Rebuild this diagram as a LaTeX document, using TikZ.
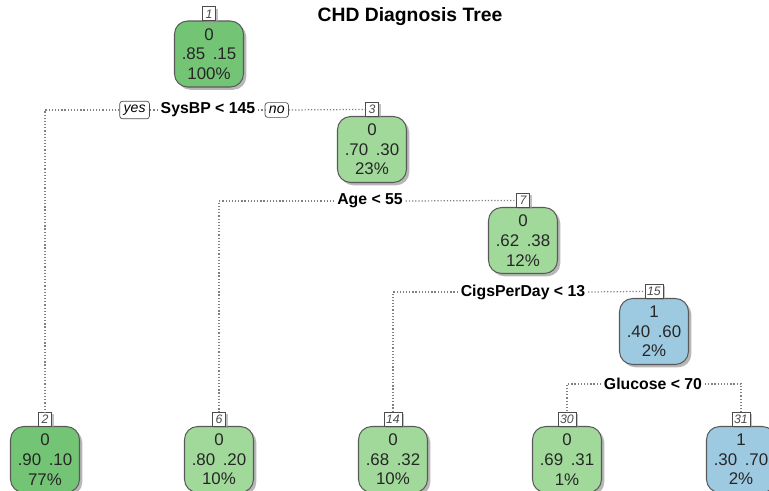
\documentclass[tikz,border=0pt]{standalone}
\usepackage{fontspec}
\setmainfont{Liberation Sans}
\usetikzlibrary{positioning, shadows}
\usepackage{xcolor}

\definecolor{leafdark}{HTML}{74C476}
\definecolor{leaflight}{HTML}{A1D99B}
\definecolor{leafblue}{HTML}{9ECAE1}

\newcommand{\pr}[2]{#1\hspace{0.45em}#2}

\begin{document}
\begin{tikzpicture}[
x=0.02cm, y=-0.02cm,
box/.style={draw=black!65, line width=0.6pt, rounded corners=7.5pt,
minimum width=1.38cm,
minimum height=1.32cm,
align=center, text=black!85,
font=\fontsize{9.6}{11.2}\selectfont,
execute at begin node={\rule{0pt}{11.5pt}},
drop shadow={shadow xshift=1.6pt, shadow yshift=-1.6pt, fill=black!40, opacity=0.7}},
tag/.style={draw=black!70, fill=white, line width=0.5pt,
inner sep=1.2pt, minimum width=0.27cm, minimum height=0.28cm,
font=\fontsize{7}{8}\selectfont\itshape, text=black!70,
drop shadow={shadow xshift=1pt, shadow yshift=-1pt, fill=black!40, opacity=0.6}},
split/.style={font=\fontsize{9}{10}\selectfont\bfseries, inner sep=1.5pt},
yesno/.style={draw=black!70, fill=white, rounded corners=1.5pt,
inner xsep=2.2pt, inner ysep=2pt,
font=\fontsize{8}{9}\selectfont\itshape},
link/.style={dash pattern=on 0.7pt off 1.1pt, black!50, line width=0.7pt}
]

\useasboundingbox (0,0) rectangle (769,491);

\node[font=\fontsize{11}{13}\selectfont\bfseries] (title) at (410,17) {CHD Diagnosis Tree};

% root and its split
\node[box, fill=leafdark] (n1) at (209,54) {0\\\pr{.85}{.15}\\100\%};
\node[tag, above=-0.5pt of n1] (t1) {1};
\node[split] (s1) at (208,110) {SysBP < 145};
\node[yesno, left=0.16cm of s1] (yes) {yes};
\node[yesno, right=0.13cm of s1] (no) {no};

% inner nodes
\node[box, fill=leaflight] (n3) at (372,149.5) {0\\\pr{.70}{.30}\\23\%};
\node[tag, above=-0.5pt of n3] (t3) {3};
\node[split] (s3) at (370,201) {Age < 55};

\node[box, fill=leaflight] (n7) at (523,240.5) {0\\\pr{.62}{.38}\\12\%};
\node[tag, above=-0.5pt of n7] (t7) {7};
\node[split] (s7) at (523,292) {CigsPerDay < 13};

\node[box, fill=leafblue] (n15) at (654,331.5) {1\\\pr{.40}{.60}\\2\%};
\node[tag, above=-0.5pt of n15] (t15) {15};
\node[split] (s15) at (653,384) {Glucose < 70};

% leaves
\node[box, fill=leafdark] (n2) at (45,459.5) {0\\\pr{.90}{.10}\\77\%};
\node[tag, above=-0.5pt of n2] (t2) {2};
\node[box, fill=leaflight] (n6) at (219,459.5) {0\\\pr{.80}{.20}\\10\%};
\node[tag, above=-0.5pt of n6] (t6) {6};
\node[box, fill=leaflight] (n14) at (393,459.5) {0\\\pr{.68}{.32}\\10\%};
\node[tag, above=-0.5pt of n14] (t14) {14};
\node[box, fill=leaflight] (n30) at (567,459.5) {0\\\pr{.69}{.31}\\1\%};
\node[tag, above=-0.5pt of n30] (t30) {30};
\node[box, fill=leafblue] (n31) at (741,459.5) {1\\\pr{.30}{.70}\\2\%};
\node[tag, above=-0.5pt of n31] (t31) {31};

% branches
\draw[link] (s1.west) -- (yes.east);
\draw[link] (yes.west) -| (t2.north);
\draw[link] (s1.east) -- (no.west);
\draw[link] (no.east) -- (t3.west);

\draw[link] (s3.west) -| (t6.north);
\draw[link] (s3.east) -- (t7.west);

\draw[link] (s7.west) -| (t14.north);
\draw[link] (s7.east) -- (t15.west);

\draw[link] (s15.west) -| (t30.north);
\draw[link] (s15.east) -| (t31.north);

\end{tikzpicture}
\end{document}
